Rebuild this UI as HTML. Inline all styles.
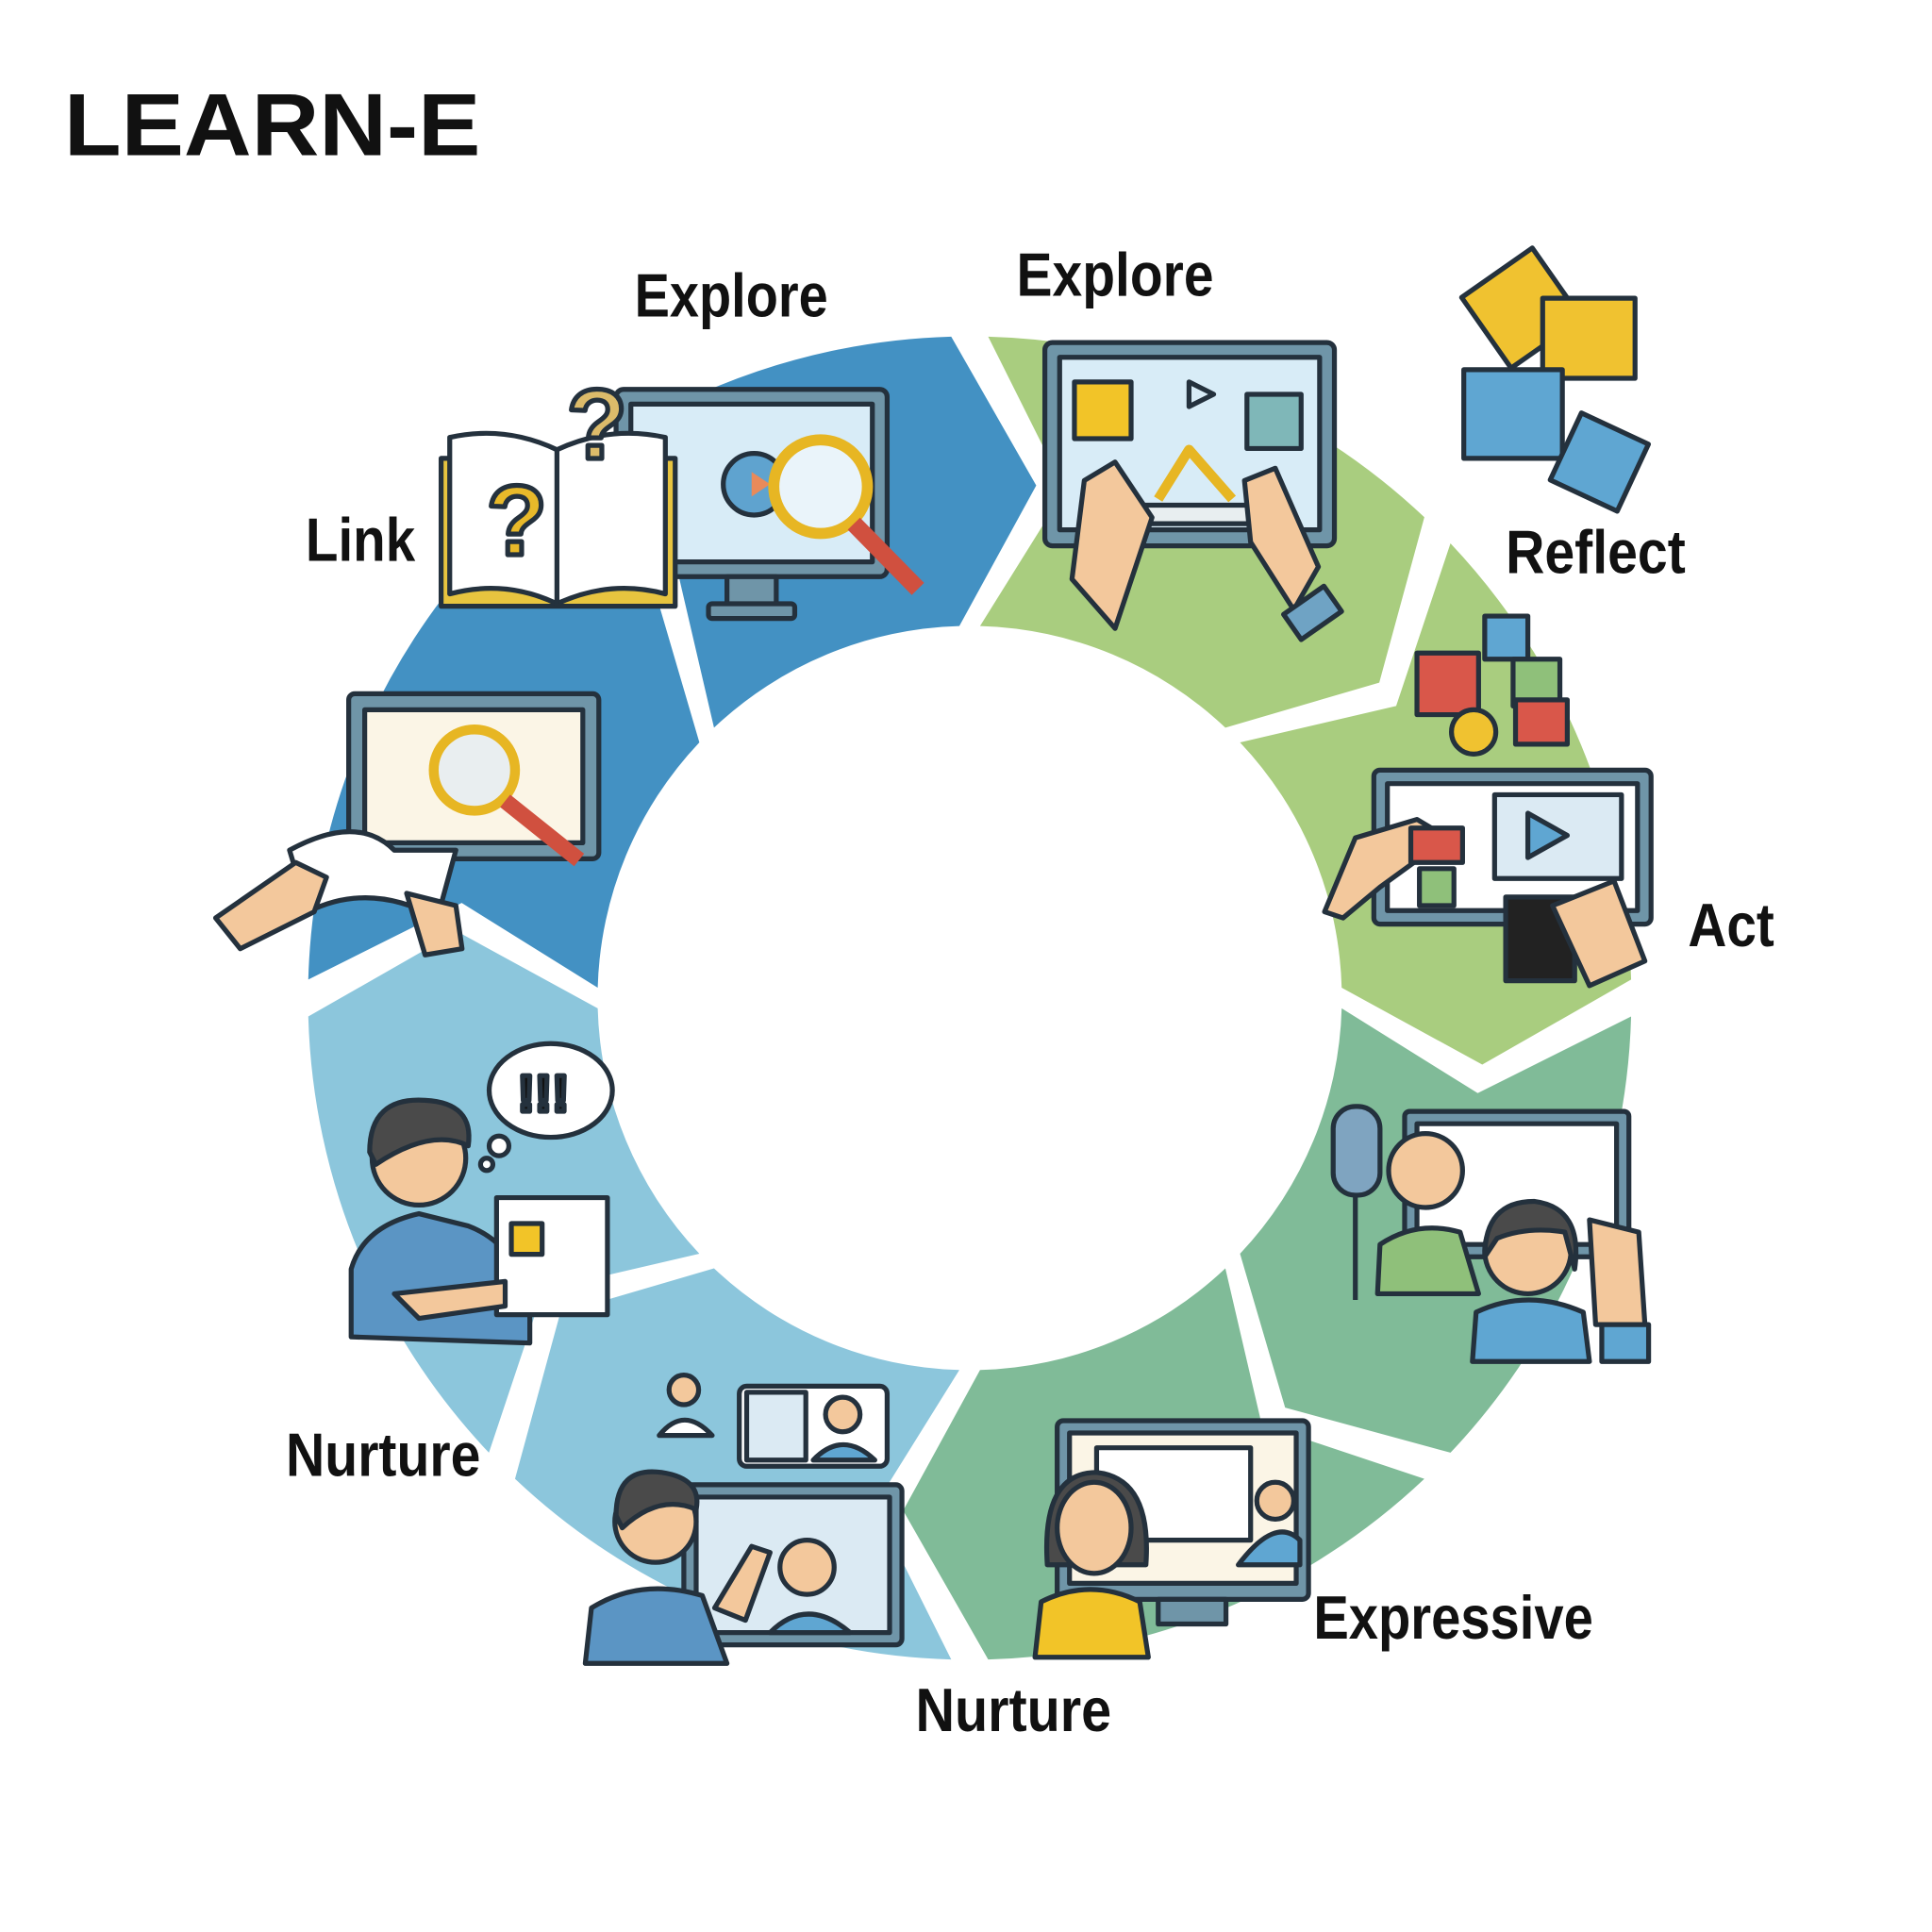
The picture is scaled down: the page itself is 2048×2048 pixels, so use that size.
<!DOCTYPE html>
<html><head><meta charset="utf-8"><style>
html,body{margin:0;padding:0;background:#fff;}
svg{display:block}
text{font-family:"Liberation Sans Narrow","Liberation Sans",sans-serif;font-weight:bold;fill:#111}
</style></head><body>
<svg id="s" width="2048" height="2048" viewBox="0 0 1568 1568" xmlns="http://www.w3.org/2000/svg">
<rect width="1568" height="1568" fill="#fff"/>
<g id="ring"></g>
<g stroke="#24313d" stroke-width="4" stroke-linejoin="round">
<!-- top blue: monitor, book, magnifier -->
<rect x="500" y="316" width="220" height="152" rx="6" fill="#6f95a8"/>
<rect x="512" y="328" width="196" height="128" fill="#d8ecf7"/>
<rect x="590" y="468" width="40" height="25" fill="#6f95a8"/>
<rect x="575" y="490" width="70" height="12" rx="3" fill="#6f95a8"/>
<circle cx="612" cy="393" r="25" fill="#5fa3cf"/>
<polygon points="610,383 625,393 610,403" fill="#e98a5a" stroke="none"/>
<circle cx="666" cy="395" r="38" fill="#eaf4fa" stroke="#e7b623" stroke-width="9"/>
<line x1="693" y1="425" x2="745" y2="478" stroke="#d0503f" stroke-width="14"/>
<rect x="358" y="372" width="190" height="120" fill="#e7c43f"/>
<path d="M365 355 Q410 345 452 365 Q495 345 540 355 L540 482 Q495 470 452 490 Q410 470 365 482Z" fill="#fff"/>
<line x1="452" y1="365" x2="452" y2="490"/>
<text x="395" y="450" style="font-size:80px;fill:#e8b92a;font-family:'Liberation Sans'">?</text>
<text x="460" y="372" style="font-size:80px;fill:#dcbb6a;font-family:'Liberation Sans'">?</text>
<!-- link monitor -->
<rect x="283" y="563" width="203" height="134" rx="5" fill="#6f95a8"/>
<rect x="296" y="576" width="177" height="108" fill="#fbf5e6"/>
<circle cx="385" cy="625" r="33" fill="#e9eef0" stroke="#e7b623" stroke-width="8"/>
<line x1="410" y1="650" x2="470" y2="698" stroke="#d0503f" stroke-width="13"/>
<path d="M235 690 Q290 660 320 690 L370 690 L355 745 Q300 715 250 740Z" fill="#fff"/>
<path d="M175 745 L240 700 L265 712 L255 740 L195 770Z" fill="#f3c89c"/>
<path d="M330 725 L370 735 L375 770 L345 775Z" fill="#f3c89c"/>
<!-- top green monitor -->
<rect x="848" y="278" width="235" height="165" rx="6" fill="#6f95a8"/>
<rect x="860" y="290" width="211" height="140" fill="#d8ecf7"/>
<rect x="872" y="310" width="46" height="46" fill="#f2c428"/>
<rect x="1012" y="320" width="44" height="44" fill="#7fb7b8"/>
<polygon points="965,310 985,320 965,330" fill="#d8ecf7"/>
<polygon points="895,410 1040,410 1025,425 905,425" fill="#e8eef0"/>
<path d="M940 405 L965 365 L1000 405" fill="none" stroke="#e7b623" stroke-width="8"/>
<path d="M880 390 L905 375 L935 420 L905 510 L870 470Z" fill="#f3c89c"/>
<path d="M1010 390 L1035 380 L1070 460 L1050 495 L1015 440Z" fill="#f3c89c"/>
<rect x="1045" y="485" width="40" height="25" fill="#6fa3c4" transform="rotate(-35 1065 497)"/>
<!-- puzzle -->
<rect x="1200" y="215" width="70" height="70" fill="#f0c230" transform="rotate(-35 1235 250)"/>
<rect x="1252" y="242" width="75" height="65" fill="#f0c230"/>
<rect x="1188" y="300" width="80" height="72" fill="#5fa6d2"/>
<rect x="1268" y="345" width="60" height="60" fill="#5fa6d2" transform="rotate(25 1298 375)"/>
<!-- blocks -->
<rect x="1150" y="530" width="50" height="50" fill="#d9574a"/>
<rect x="1205" y="500" width="35" height="35" fill="#5fa6d2"/>
<rect x="1228" y="535" width="38" height="38" fill="#8fc07a"/>
<rect x="1230" y="568" width="42" height="36" fill="#d9574a"/>
<circle cx="1196" cy="594" r="18" fill="#f0c230"/>
<!-- act monitor -->
<rect x="1115" y="625" width="225" height="125" rx="5" fill="#6f95a8"/>
<rect x="1126" y="636" width="203" height="103" fill="#fff"/>
<rect x="1213" y="645" width="103" height="68" fill="#dbeaf3"/>
<polygon points="1240,660 1272,678 1240,696" fill="#5fa6d2"/>
<rect x="1152" y="705" width="28" height="30" fill="#8fc07a"/>
<rect x="1222" y="728" width="56" height="68" fill="#222"/>
<path d="M1075 740 L1100 680 L1150 665 L1175 680 L1120 720 L1090 745Z" fill="#f3c89c"/>
<rect x="1145" y="672" width="42" height="28" fill="#d9574a"/>
<path d="M1260 735 L1310 715 L1335 780 L1290 800Z" fill="#f3c89c"/>
<!-- nurture left person -->
<path d="M285 1085 L285 1030 Q295 995 340 985 L380 995 Q420 1010 430 1060 L430 1090Z" fill="#5b95c4"/>
<circle cx="340" cy="940" r="38" fill="#f3c89c"/>
<path d="M300 935 Q300 890 345 893 Q385 895 380 930 Q350 915 305 945Z" fill="#4a4a4a"/>
<rect x="403" y="972" width="90" height="95" fill="#fff"/>
<rect x="415" y="993" width="25" height="25" fill="#f2c428"/>
<path d="M320 1050 L410 1040 L410 1060 L340 1070Z" fill="#f3c89c"/>
<ellipse cx="447" cy="885" rx="50" ry="38" fill="#fff"/>
<text x="420" y="902" style="font-size:42px;font-family:'Liberation Sans'">!!!</text>
<circle cx="405" cy="930" r="8" fill="#fff"/><circle cx="395" cy="945" r="5" fill="#fff"/>
<!-- right teal -->
<rect x="1140" y="902" width="182" height="118" rx="4" fill="#6f95a8"/>
<rect x="1150" y="912" width="162" height="98" fill="#fff"/>
<rect x="1082" y="898" width="38" height="72" rx="18" fill="#7fa4c0"/>
<line x1="1100" y1="970" x2="1100" y2="1055"/>
<path d="M1118 1050 L1120 1010 Q1150 990 1185 1000 L1200 1050Z" fill="#8fc07a"/>
<circle cx="1157" cy="950" r="30" fill="#f3c89c"/>
<path d="M1195 1105 L1198 1065 Q1240 1045 1285 1065 L1290 1105Z" fill="#5fa6d2"/>
<circle cx="1240" cy="1015" r="35" fill="#f3c89c"/>
<path d="M1205 1020 Q1205 975 1245 975 Q1285 980 1278 1030 L1270 1000 Q1240 995 1215 1005Z" fill="#4a4a4a"/>
<path d="M1295 1075 L1290 990 L1330 1000 L1335 1075Z" fill="#f3c89c"/>
<rect x="1300" y="1075" width="38" height="30" fill="#5fa6d2"/>
<!-- bottom teal monitor -->
<rect x="858" y="1153" width="204" height="145" rx="5" fill="#6f95a8"/>
<rect x="868" y="1163" width="184" height="122" fill="#fbf5e6"/>
<rect x="890" y="1175" width="125" height="75" fill="#fff"/>
<rect x="940" y="1298" width="55" height="20" fill="#6f95a8"/>
<path d="M840 1345 L845 1300 Q885 1280 925 1300 L932 1345Z" fill="#f2c428"/>
<path d="M850 1270 Q845 1195 890 1195 Q935 1200 930 1270Z" fill="#4a4a4a"/>
<ellipse cx="888" cy="1240" rx="30" ry="37" fill="#f3c89c"/>
<circle cx="1035" cy="1218" r="15" fill="#f3c89c"/>
<path d="M1005 1270 Q1035 1230 1055 1250 L1055 1270Z" fill="#5fa6d2"/>
<!-- bottom-left light blue -->
<rect x="555" y="1205" width="177" height="130" rx="5" fill="#6f95a8"/>
<rect x="565" y="1215" width="157" height="110" fill="#dbeaf3"/>
<path d="M475 1350 L480 1305 Q520 1280 570 1295 L590 1350Z" fill="#5b95c4"/>
<circle cx="532" cy="1235" r="33" fill="#f3c89c"/>
<path d="M500 1230 Q500 1190 537 1195 Q570 1200 565 1225 Q535 1212 505 1240Z" fill="#4a4a4a"/>
<path d="M580 1305 L610 1255 L625 1260 L605 1315Z" fill="#f3c89c"/>
<circle cx="655" cy="1272" r="22" fill="#f3c89c"/>
<path d="M625 1325 Q655 1295 690 1325Z" fill="#5fa6d2"/>
<rect x="600" y="1125" width="120" height="65" rx="6" fill="#fff"/>
<rect x="606" y="1130" width="48" height="55" fill="#dbeaf3"/>
<circle cx="684" cy="1148" r="14" fill="#f3c89c"/>
<path d="M660 1185 Q684 1160 710 1185Z" fill="#5fa6d2"/>
<circle cx="555" cy="1128" r="12" fill="#f3c89c"/>
<path d="M535 1165 Q555 1140 578 1165Z" fill="#fff"/>
</g>
<text x="52" y="126" textLength="338" lengthAdjust="spacingAndGlyphs" style="font-family:'Liberation Sans';font-size:72px">LEARN-E</text>
<text x="515" y="257" textLength="157" lengthAdjust="spacingAndGlyphs" style="font-size:50px">Explore</text>
<text x="825" y="240" textLength="160" lengthAdjust="spacingAndGlyphs" style="font-size:50px">Explore</text>
<text x="1222" y="465" textLength="146" lengthAdjust="spacingAndGlyphs" style="font-size:50px">Reflect</text>
<text x="248" y="455" textLength="89" lengthAdjust="spacingAndGlyphs" style="font-size:50px">Link</text>
<text x="1370" y="768" textLength="70" lengthAdjust="spacingAndGlyphs" style="font-size:50px">Act</text>
<text x="1066" y="1330" textLength="227" lengthAdjust="spacingAndGlyphs" style="font-size:50px">Expressive</text>
<text x="743" y="1405" textLength="159" lengthAdjust="spacingAndGlyphs" style="font-size:50px">Nurture</text>
<text x="232" y="1198" textLength="158" lengthAdjust="spacingAndGlyphs" style="font-size:50px">Nurture</text>
</svg>
<script>
(function(){
var cx=787,cy=810,R=537,r=302,rm=(R+r)/2,g=1.6,t=9;
var cols=["#4391c3","#4391c3","#a9cd7f","#a9cd7f","#80bb98","#80bb98","#8cc6dc","#8cc6dc"];
function p(rad,a){a=a*Math.PI/180;return (cx+rad*Math.cos(a)).toFixed(1)+","+(cy+rad*Math.sin(a)).toFixed(1);}
var h="";
for(var i=0;i<8;i++){
var a0=180+45*i+g,a1=180+45*(i+1)-g;
var d="M"+p(R,a0)+" A"+R+","+R+" 0 0 1 "+p(R,a1)+" L"+p(rm,a1+t)+" L"+p(r,a1)+" A"+r+","+r+" 0 0 0 "+p(r,a0)+" L"+p(rm,a0+t)+" Z";
h+='<path d="'+d+'" fill="'+cols[i]+'"/>';
}
document.getElementById("ring").innerHTML=h;
})();
</script>
</body></html>
